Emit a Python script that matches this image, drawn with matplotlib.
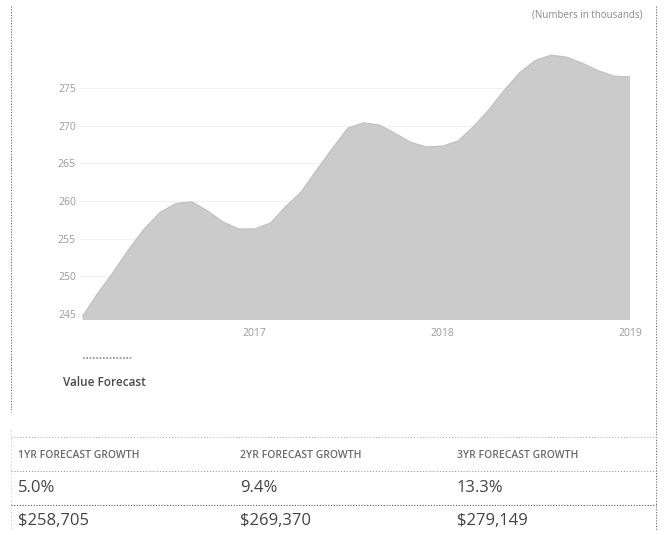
import matplotlib.pyplot as plt
import matplotlib.dates as mdates
import pandas as pd
from matplotlib.lines import Line2D

# monthly value forecast, thousands of dollars (Feb 2016 - Jan 2019)
months = pd.date_range('2016-02-01', periods=36, freq='MS')
values = [244.7, 247.7, 250.6, 253.6, 256.4, 258.5, 259.7, 259.9, 258.7, 257.2,
          256.3, 256.3, 257.1, 259.2, 261.2, 264.1, 267.0, 269.7, 270.4, 270.1,
          269.0, 267.8, 267.2, 267.3, 268.0, 269.8, 272.1, 274.7, 277.1, 278.7,
          279.4, 279.1, 278.3, 277.3, 276.6, 276.5]

y_ticks = [245, 250, 255, 260, 265, 270, 275]
x_tick_years = ['2017', '2018', '2019']

headers = ['1YR FORECAST GROWTH', '2YR FORECAST GROWTH', '3YR FORECAST GROWTH']
growth = ['5.0%', '9.4%', '13.3%']
prices = ['$258,705', '$269,370', '$279,149']

plt.rcParams['font.family'] = ['Open Sans', 'DejaVu Sans']

W, H = 664, 535
fig = plt.figure(figsize=(W / 100, H / 100), dpi=100, facecolor='white')


def fx(x):
    return x / W


def fy(y):
    return 1 - y / H


ax = fig.add_axes([fx(80), fy(320), fx(630) - fx(80), fy(40) - fy(320)])
ax.fill_between(months, values, 244.2, color='#cbcbcb', edgecolor='none')
ax.plot(months, values, color='#c0c0c0', lw=0.8, solid_joinstyle='round')
ax.set_xlim(pd.Timestamp('2016-01-27'), pd.Timestamp('2019-01-01'))
ax.set_ylim(244.2, 281.4)
ax.set_yticks(y_ticks)
ax.set_yticklabels([str(v) for v in y_ticks])
ax.set_xticks([pd.Timestamp(y + '-01-01') for y in x_tick_years])
ax.xaxis.set_major_formatter(mdates.DateFormatter('%Y'))
ax.tick_params(length=0, labelsize=7.5, colors='#9a9a9a', pad=3)
ax.tick_params(axis='x', pad=6)
ax.grid(axis='y', color='#f2f2f2', lw=0.8)
ax.set_axisbelow(True)
for s in ax.spines.values():
    s.set_visible(False)

# header note
fig.text(fx(642), fy(15), '(Numbers in thousands)', ha='right', va='center',
         fontsize=7, color='#8a8a8a')

# legend
fig.add_artist(Line2D([fx(83), fx(133)], [fy(358), fy(358)], color='#8a8a8a',
                      lw=1.2, ls=(0, (1, 1))))
fig.text(fx(63), fy(383), 'Value Forecast', ha='left', va='center', fontsize=8.5,
         color='#4a4a4a', fontweight='semibold')

# dotted frame around chart
dot = dict(color='#666666', lw=0.8, ls=(0, (1, 1.5)))
fig.add_artist(Line2D([fx(11), fx(11)], [fy(6), fy(412)], **dot))
fig.add_artist(Line2D([fx(656), fx(656)], [fy(6), fy(530)], **dot))
fig.add_artist(Line2D([fx(11), fx(11)], [fy(430), fy(530)], color='#bbbbbb',
                      lw=0.7, ls=(0, (1, 3))))

# table lines
fig.add_artist(Line2D([fx(11), fx(656)], [fy(437), fy(437)], color='#aaaaaa',
                      lw=0.7, ls=(0, (1, 2))))
fig.add_artist(Line2D([fx(11), fx(656)], [fy(471), fy(471)], color='#888888',
                      lw=0.7, ls=(0, (1, 2))))
fig.add_artist(Line2D([fx(11), fx(656)], [fy(505), fy(505)], color='#555555',
                      lw=0.8, ls=(0, (1, 1.5))))

col_x = [18, 240, 457]
for i in range(3):
    fig.text(fx(col_x[i]), fy(455), headers[i], ha='left', va='center',
             fontsize=7.5, color='#6a6a6a', fontweight='semibold')
    fig.text(fx(col_x[i]), fy(488), growth[i], ha='left', va='center',
             fontsize=12, color='#444444')
    fig.text(fx(col_x[i]), fy(521), prices[i], ha='left', va='center',
             fontsize=12, color='#444444')

fig.savefig('out.png', dpi=100, facecolor='white')
